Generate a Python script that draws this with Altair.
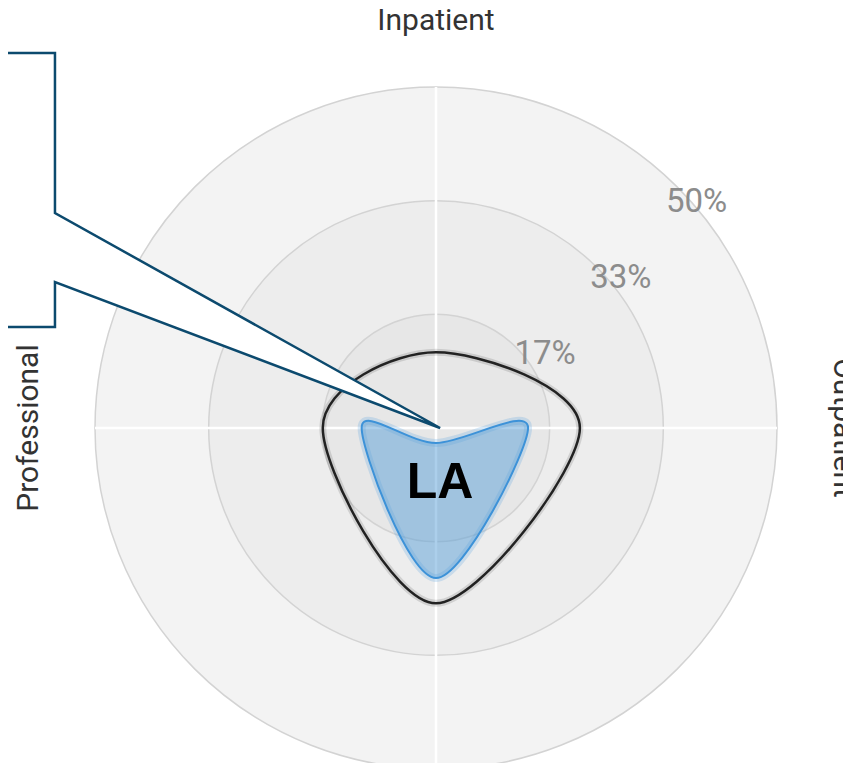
import math
import altair as alt
import pandas as pd

# ---- data ----
axes = ["Inpatient", "Outpatient", "Pharmacy", "Professional"]
axis_angles = [0, 90, 180, 270]          # degrees, clockwise from top
benchmark_values = [11.1, 21.1, 25.7, 16.6]   # black outline (%)
la_values = [-2.2, 13.5, 22.0, 10.9]          # blue shape (%)

ring_values = [50, 33.33, 16.67]
ring_labels = ["50%", "33%", "17%"]
ring_fills = ["#f3f3f3", "#ededed", "#e7e7e7"]

axis_labels = ["Inpatient", "Outpatient", "Professional"]
axis_label_angles = [0, 90, 270]
axis_label_rot = [0, 90, 270]
axis_label_radius = 58.3

callout_x = [-64.2, -55.87, -55.87, 0.6, -55.87, -55.87, -64.2]
callout_y = [54.99, 54.99, 31.52, 0.0, 21.41, 14.81, 14.81]

region_label = "LA"
region_label_pos = (0.6, -10.26)

# ---- scales ----
xs = alt.Scale(domain=[-50, 50], range=[87, 769])
ys = alt.Scale(domain=[-50, 50], range=[761, 79])
rs = alt.Scale(type="linear", domain=[0, 50], range=[0, 341])

def X(f):
    return alt.X(f, type="quantitative", scale=xs, axis=None)

def Y(f):
    return alt.Y(f, type="quantitative", scale=ys, axis=None)

# rings (largest first so smaller ones are drawn on top)
rings_df = pd.DataFrame({"r": ring_values, "fill": ring_fills,
                         "cx": [0] * 3, "cy": [0] * 3})
rings = alt.Chart(rings_df).mark_arc(
    theta=0, theta2=2 * math.pi, stroke="#d3d3d3", strokeWidth=1.5
).encode(
    x=X("cx"), y=Y("cy"),
    radius=alt.Radius("r:Q", scale=rs, stack=None),
    fill=alt.Fill("fill:N", scale=None),
)

# spokes
spokes_df = pd.DataFrame({"axis": axes, "angle": axis_angles,
                          "r": [50] * 4, "z": [0] * 4})
spokes = alt.Chart(spokes_df).transform_calculate(
    x2="datum.r * sin(datum.angle * PI / 180)",
    y2="datum.r * cos(datum.angle * PI / 180)",
).mark_rule(color="white", strokeWidth=2.5).encode(
    x=X("z"), y=Y("z"), x2="x2:Q", y2="y2:Q"
)

def series_df(vals):
    return pd.DataFrame({"axis": axes, "angle": axis_angles,
                         "value": vals, "i": list(range(len(axes)))})

calc = dict(
    px="datum.value * sin(datum.angle * PI / 180)",
    py="datum.value * cos(datum.angle * PI / 180)",
)

bench_base = alt.Chart(series_df(benchmark_values)).transform_calculate(**calc)
bench_shadow = bench_base.mark_line(
    interpolate="cardinal-closed", stroke="#000000", strokeOpacity=0.12,
    strokeWidth=7
).encode(x=X("px"), y=Y("py"), order="i:Q")
bench_line = bench_base.mark_line(
    interpolate="cardinal-closed", stroke="#222222", strokeWidth=2.5
).encode(x=X("px"), y=Y("py"), order="i:Q")

la_base = alt.Chart(series_df(la_values)).transform_calculate(**calc)
la_glow = la_base.mark_line(
    interpolate="cardinal-closed", stroke="#4a9be0", strokeOpacity=0.22,
    strokeWidth=8
).encode(x=X("px"), y=Y("py"), order="i:Q")
la_shape = la_base.mark_line(
    interpolate="cardinal-closed", stroke="#3d92d8", strokeWidth=2,
    fill="#5aa0d8", fillOpacity=0.5
).encode(x=X("px"), y=Y("py"), order="i:Q")

# callout
callout_df = pd.DataFrame({"x": callout_x, "y": callout_y,
                           "i": list(range(len(callout_x)))})
callout = alt.Chart(callout_df).mark_line(
    interpolate="linear-closed", stroke="#0c4a6e", strokeWidth=2.5,
    fill="white", strokeJoin="miter", clip=False
).encode(x=X("x"), y=Y("y"), order="i:Q")

# region label
la_text_df = pd.DataFrame({"x": [region_label_pos[0]], "y": [region_label_pos[1]],
                           "t": [region_label]})
la_text = alt.Chart(la_text_df).mark_text(
    font="Liberation Sans", fontWeight="bold", fontSize=50, color="#000000",
    align="center", baseline="alphabetic"
).encode(x=X("x"), y=Y("y"), text="t:N")

# ring tick labels
ticks_df = pd.DataFrame({"v": ring_values, "t": ring_labels})
ticks = alt.Chart(ticks_df).transform_calculate(
    tx="4.9 + 0.666 * datum.v", ty="0.666 * datum.v - 0.23"
).mark_text(
    font="Roboto", fontSize=33, color="#8c8c8c", align="center",
    baseline="middle"
).encode(x=X("tx"), y=Y("ty"), text="t:N")

# axis labels
al_df = pd.DataFrame({"t": axis_labels, "angle": axis_label_angles,
                      "rot": axis_label_rot, "r": [axis_label_radius] * 3})
alabels = alt.Chart(al_df).transform_calculate(
    lx="datum.r * sin(datum.angle * PI / 180)",
    ly="datum.r * cos(datum.angle * PI / 180)",
).mark_text(
    font="Roboto", fontSize=30, color="#333333", align="center",
    baseline="alphabetic"
).encode(x=X("lx"), y=Y("ly"), text="t:N",
         angle=alt.Angle("rot:Q", scale=None))

chart = alt.layer(
    rings, spokes, bench_shadow, bench_line, la_glow, la_shape,
    callout, la_text, ticks, alabels
).properties(
    width=835, height=755, autosize=alt.AutoSizeParams(type="none"),
    padding=0, background="white"
).configure_view(stroke=None)

chart.save("out.html", embed_options={"renderer": "svg", "actions": False})
